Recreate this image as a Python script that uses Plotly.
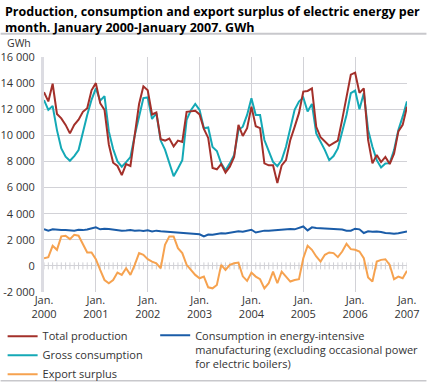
import plotly.graph_objects as go

months = list(range(85))  # Jan 2000 .. Jan 2007

total_production = [
    13300, 12600, 13950, 11640, 11300, 10800, 10150, 10800, 11200, 11800, 12080, 13450,
    14000, 12460, 11950, 9300, 7900, 7650, 6950, 7800, 7650, 9900, 12400, 13750,
    13450, 11600, 11750, 9700, 9600, 9750, 9150, 9600, 9500, 11800, 11850, 11880,
    11600, 10500, 9800, 7500, 7400, 7800, 7150, 7600, 8350, 10800, 9950, 10550,
    12200, 10700, 10550, 7850, 7700, 7700, 6350, 7700, 8100, 9650, 10650, 11700,
    13350, 13400, 13600, 10650, 9850, 9500, 9200, 9400, 9600, 11200, 12950, 14650,
    14800, 13250, 13600, 9650, 7850, 8500, 7950, 8350, 7800, 8600, 10300, 10800,
    12200,
]

gross_consumption = [
    12700, 11950, 12250, 10400, 9000, 8360, 8050, 8410, 8870, 10280, 11560, 12720,
    13600, 12650, 13000, 10300, 8950, 8000, 7600, 7950, 8330, 10000, 11560, 12850,
    12900, 11250, 11690, 9600, 8900, 7800, 6870, 7460, 8100, 11180, 11930, 12400,
    11950, 10540, 10600, 9100, 8800, 7850, 7330, 7850, 8490, 10410, 10660, 11560,
    12850, 11560, 11560, 9640, 8870, 7970, 7640, 8100, 9120, 10660, 11950, 12590,
    12900, 11820, 12410, 10150, 9510, 8870, 8100, 8410, 9000, 10280, 11560, 13230,
    13430, 12000, 13230, 10410, 9120, 8100, 7540, 7850, 7870, 8870, 10410, 11430,
    12600,
]

energy_intensive = [
    2820, 2700, 2800, 2760, 2750, 2740, 2720, 2700, 2760, 2740, 2780, 2850,
    2950, 2800, 2850, 2820, 2780, 2740, 2700, 2720, 2750, 2700, 2720, 2680,
    2720, 2640, 2700, 2650, 2620, 2580, 2600, 2560, 2520, 2500, 2480, 2450,
    2420, 2250, 2400, 2380, 2450, 2500, 2480, 2550, 2600, 2650, 2620, 2700,
    2770, 2560, 2650, 2700, 2700, 2720, 2750, 2800, 2780, 2820, 2800, 2900,
    3020, 2720, 2950, 2900, 2880, 2850, 2880, 2820, 2830, 2780, 2700, 2700,
    2850, 2800, 2520, 2650, 2620, 2640, 2600, 2520, 2500, 2460, 2500, 2560,
    2640,
]

export_surplus = [
    590, 670, 1540, 1230, 2260, 2310, 2050, 2380, 2310, 1620, 1030, 1030,
    510, -310, -1080, -1330, -1080, -510, -690, -180, -690, 80, 980, 850,
    510, 330, 200, -180, 1620, 2260, 2260, 1360, 980, 80, -310, -690,
    -950, -820, -1640, -1720, -1460, 80, -310, 80, 200, 250, -800, -1150,
    -510, -820, -1020, -1720, -1330, -440, -1330, -440, -820, -1200, -1080, -1020,
    590, 1540, 1230, 720, 330, 850, 1030, 980, 670, 1100, 1690, 1280,
    1230, 1100, 590, -880, -1200, 330, 460, 510, 80, -1020, -820, -950,
    -370,
]

tick_months = [0, 12, 24, 36, 48, 60, 72, 84]
tick_labels = ["Jan.<br>2000", "Jan.<br>2001", "Jan.<br>2002", "Jan.<br>2003",
               "Jan.<br>2004", "Jan.<br>2005", "Jan.<br>2006", "Jan.<br>2007"]

y_ticks = [-2000, 0, 2000, 4000, 6000, 8000, 10000, 12000, 14000, 16000]
y_labels = ["-2 000", "0", "2 000", "4 000", "6 000", "8 000", "10 000", "12 000", "14 000", "16 000"]

RED = "#a3302a"
TEAL = "#14a9b6"
BLUE = "#1a5ca8"
ORANGE = "#f6a24f"
FONT = "Open Sans"

fig = go.Figure()

# monthly tick marks along the zero line
fig.add_trace(go.Scatter(
    x=months, y=[0] * len(months), mode="markers",
    marker=dict(symbol="line-ns", size=5, color="#d0d0d5",
                line=dict(color="#d0d0d5", width=1)),
    showlegend=False, hoverinfo="skip"))

fig.add_trace(go.Scatter(x=months, y=gross_consumption, mode="lines", name="Gross consumption",
                         line=dict(color=TEAL, width=2), legend="legend", legendrank=2))
fig.add_trace(go.Scatter(x=months, y=total_production, mode="lines", name="Total production",
                         line=dict(color=RED, width=2), legend="legend", legendrank=1))
fig.add_trace(go.Scatter(x=months, y=energy_intensive, mode="lines",
                         name="Consumption in energy-intensive<br>manufacturing (excluding occasional power<br>for electric boilers)",
                         line=dict(color=BLUE, width=2), legend="legend2"))
fig.add_trace(go.Scatter(x=months, y=export_surplus, mode="lines", name="Export surplus",
                         line=dict(color=ORANGE, width=2), legend="legend", legendrank=3))

L, R, T, B = 43.5, 19.5, 57.3, 90.7
W, H = 427, 383
pw, ph = W - L - R, H - T - B

def px_x(x):
    return (x - L) / pw

def px_y(y):
    return (H - B - y) / ph

fig.update_layout(
    width=W, height=H,
    margin=dict(l=L, r=R, t=T, b=B, pad=0, autoexpand=False),
    paper_bgcolor="white", plot_bgcolor="white",
    font=dict(family=FONT, size=11, color="#333333"),
    xaxis=dict(range=[0, 84], tickvals=tick_months, ticktext=tick_labels,
               showgrid=True, gridcolor="#d2d2d7", gridwidth=1,
               zeroline=False, showline=False, ticks="",
               tickfont=dict(size=11, color="#333333")),
    yaxis=dict(range=[-2000, 16000], tickvals=y_ticks, ticktext=y_labels,
               showgrid=True, gridcolor="#d2d2d7", gridwidth=1,
               zeroline=False, showline=True, linecolor="#dcdce2", linewidth=3,
               ticks="", ticklabelstandoff=4,
               tickfont=dict(size=11, color="#333333")),
    legend=dict(x=px_x(2), y=px_y(322), xanchor="left", yanchor="top",
                orientation="v", traceorder="normal", tracegroupgap=0,
                font=dict(size=11, color="#333333"), bgcolor="rgba(0,0,0,0)"),
    legend2=dict(x=px_x(155), y=px_y(322), xanchor="left", yanchor="top",
                 valign="top", font=dict(size=11, color="#333333"), bgcolor="rgba(0,0,0,0)"),
    showlegend=True,
    shapes=[
        dict(type="line", xref="paper", yref="paper", x0=px_x(0), x1=px_x(W),
             y0=px_y(34), y1=px_y(34), line=dict(color="#c8c8cc", width=2)),
        dict(type="line", xref="paper", yref="paper", x0=px_x(0), x1=px_x(W),
             y0=px_y(381), y1=px_y(381), line=dict(color="#c8c8cc", width=1.5)),
    ],
    annotations=[
        dict(text="<b>Production, consumption and export surplus of electric energy per<br>month. January 2000-January 2007. GWh</b>",
             xref="paper", yref="paper", x=px_x(2), y=px_y(1),
             xanchor="left", yanchor="top", align="left", showarrow=False,
             font=dict(family=FONT, size=12.5, color="#000000")),
        dict(text="GWh", xref="paper", yref="paper", x=px_x(4), y=px_y(43),
             xanchor="left", yanchor="middle", showarrow=False,
             font=dict(size=10.5, color="#333333")),
    ],
)

fig.write_html("out.html", config={"displayModeBar": False},
               post_script="document.body.style.margin='0';document.body.style.padding='0';")
